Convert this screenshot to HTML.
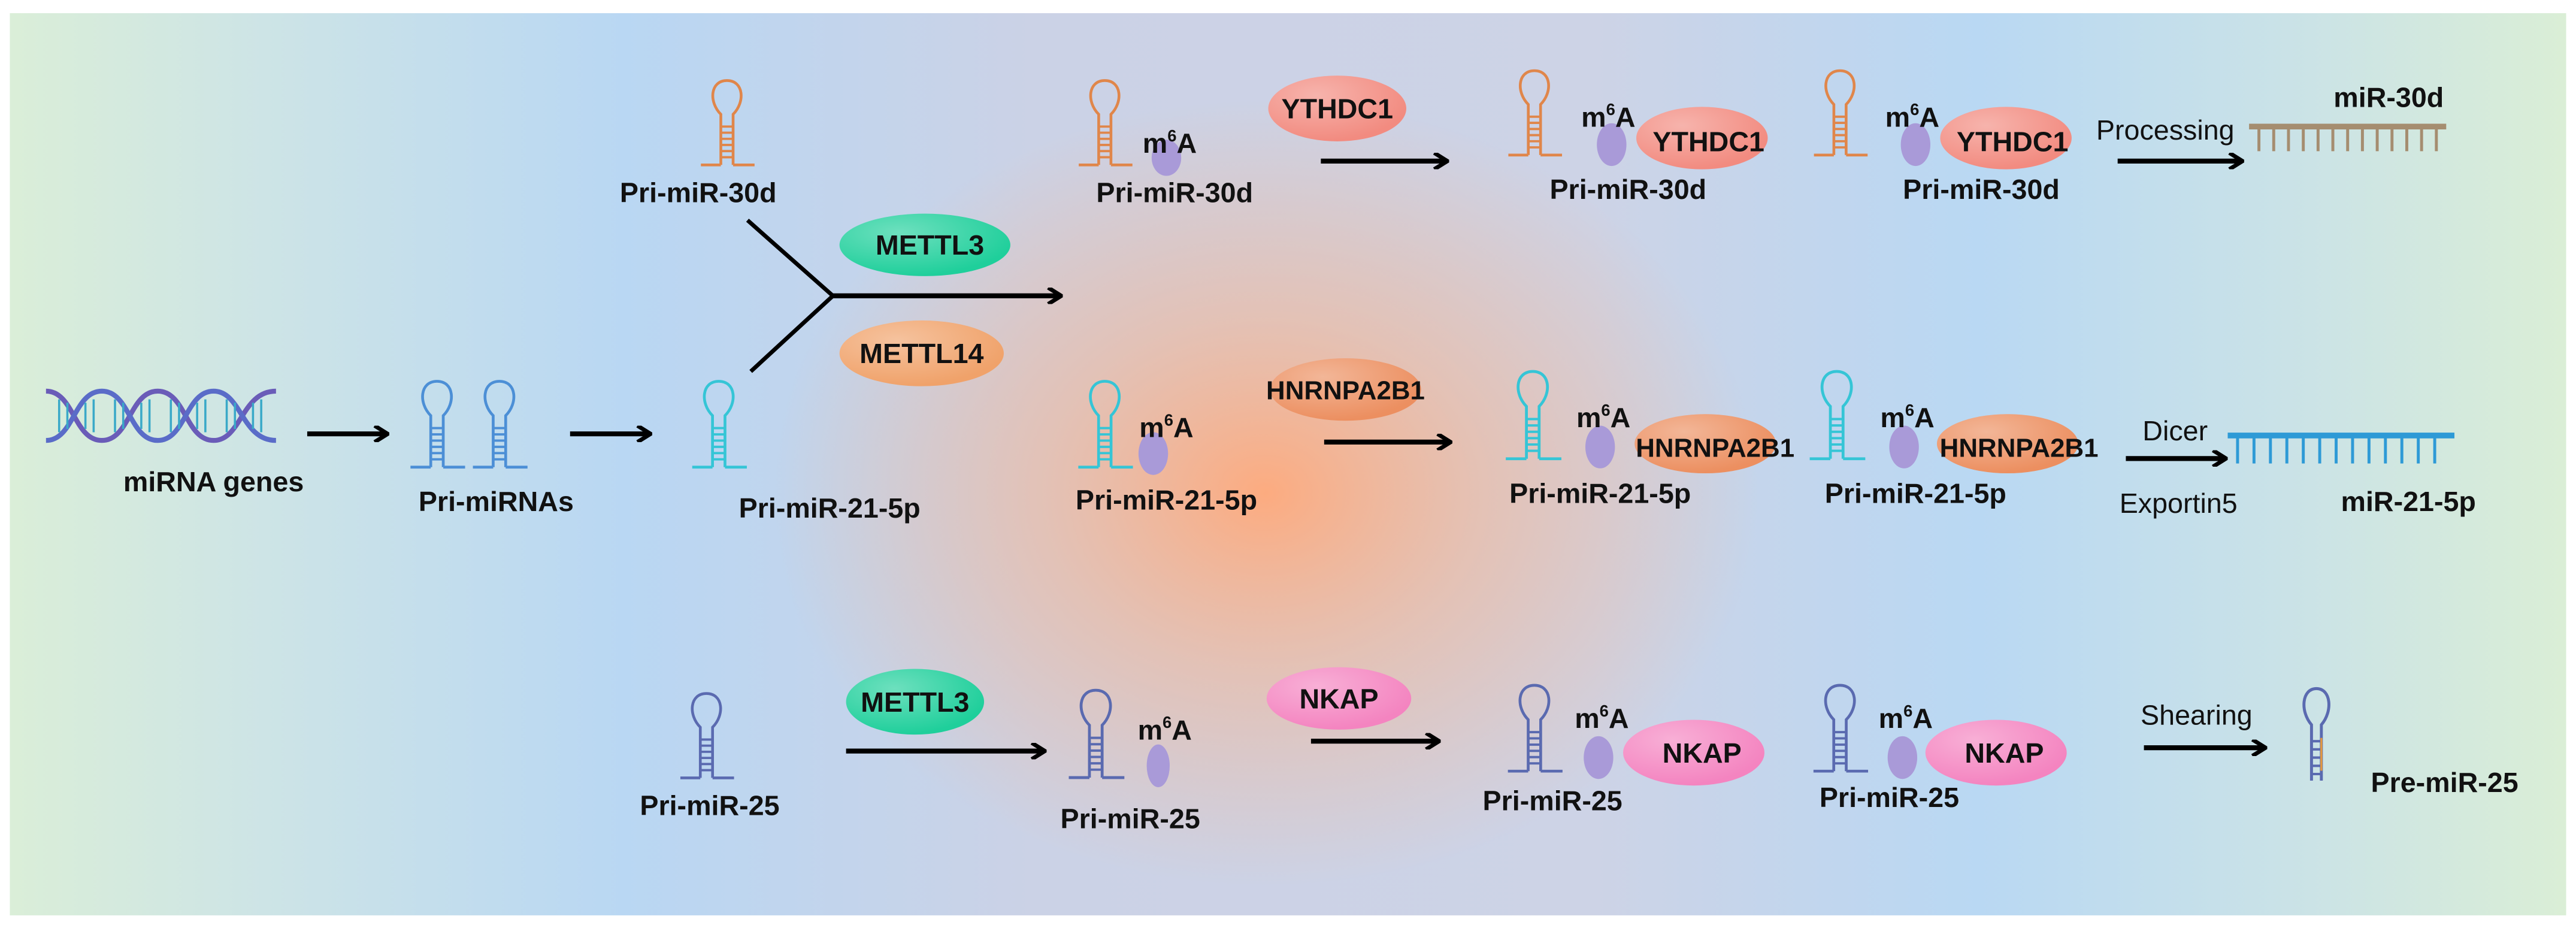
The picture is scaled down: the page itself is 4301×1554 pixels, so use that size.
<!DOCTYPE html>
<html><head><meta charset="utf-8"><style>
html,body{margin:0;padding:0;background:#fff}
svg{display:block}
text{font-family:"Liberation Sans Narrow","Liberation Sans",sans-serif;font-weight:bold;fill:#111}
.n{font-weight:normal}
</style></head><body>
<svg width="4301" height="1554" viewBox="0 0 1568 566.5" xmlns="http://www.w3.org/2000/svg">
<defs>
<linearGradient id="bg" x1="0" x2="1" y1="0" y2="0">
<stop offset="0" stop-color="#daeed8"/>
<stop offset="0.1" stop-color="#cde4e6"/>
<stop offset="0.24" stop-color="#b9d7f3"/>
<stop offset="0.4" stop-color="#cbd2e6"/>
<stop offset="0.62" stop-color="#cdd3e6"/>
<stop offset="0.77" stop-color="#b9d8f3"/>
<stop offset="0.9" stop-color="#cbe3e6"/>
<stop offset="1" stop-color="#daeed6"/>
</linearGradient>
<radialGradient id="org" cx="770" cy="300" r="300" gradientUnits="userSpaceOnUse" gradientTransform="translate(770 300) scale(1 0.8) translate(-770 -300)">
<stop offset="0" stop-color="#ffa97a" stop-opacity="0.95"/>
<stop offset="0.45" stop-color="#f6b48f" stop-opacity="0.55"/>
<stop offset="1" stop-color="#f6b48f" stop-opacity="0"/>
</radialGradient>
<radialGradient id="shine" cx="0.35" cy="0.3" r="0.7">
<stop offset="0" stop-color="#fff" stop-opacity="0.35"/>
<stop offset="1" stop-color="#fff" stop-opacity="0"/>
</radialGradient>
<symbol id="hp" viewBox="0 0 40 60" overflow="visible">
<path d="M16 55 V22 C8 14 9 0 20 0 C31 0 32 14 24 22 V55 M3 55 H16 M24 55 H38" fill="none" stroke="currentColor" stroke-width="1.8"/>
<path d="M16 30 H24 M16 34 H24 M16 38 H24 M16 42 H24 M16 46 H24 M16 50 H24" stroke="currentColor" stroke-width="1.5"/>
</symbol>
<marker id="ah" markerWidth="10" markerHeight="10" refX="8" refY="5" orient="auto" markerUnits="userSpaceOnUse">
<path d="M1 0 L9 5 L1 10" fill="none" stroke="#000" stroke-width="2.5"/>
</marker>
</defs>
<rect x="0" y="0" width="1568" height="566.5" fill="#fff"/>
<rect x="6" y="8" width="1556" height="549" fill="url(#bg)"/>
<rect x="6" y="8" width="1556" height="549" fill="url(#org)"/>

<!-- DNA -->
<g fill="none" stroke-width="3">
<path d="M28 238 C45 238 45 268 62 268 C79 268 79 238 96 238 C113 238 113 268 130 268 C147 268 147 238 168 238" stroke="#6a5cb8"/>
<path d="M28 268 C45 268 45 238 62 238 C79 238 79 268 96 268 C113 268 113 238 130 238 C147 238 147 268 168 268" stroke="#5a6cc8"/>
<path d="M36 243V263M41 245V261M52 245V261M57 243V263M70 243V263M75 245V261M86 245V261M91 243V263M104 243V263M109 245V261M120 245V261M125 243V263M138 243V263M143 245V261M154 245V261M159 243V263" stroke="#3aa9c8" stroke-width="1.3"/>
</g>
<text x="130" y="299" font-size="17" text-anchor="middle">miRNA genes</text>
<line x1="187" y1="264" x2="235" y2="264" stroke="#000" stroke-width="3" marker-end="url(#ah)"/>

<use href="#hp" x="240" y="232" width="52" height="57" style="color:#4c8fd6"/>
<use href="#hp" x="278" y="232" width="52" height="57" style="color:#4c8fd6"/>
<text x="302" y="311" font-size="17" text-anchor="middle">Pri-miRNAs</text>
<line x1="347" y1="264" x2="395" y2="264" stroke="#000" stroke-width="3" marker-end="url(#ah)"/>
<use href="#hp" x="410" y="232" width="55" height="57" style="color:#35c5d6"/>
<text x="505" y="315" font-size="17" text-anchor="middle">Pri-miR-21-5p</text>

<use href="#hp" x="415" y="49" width="55" height="56" style="color:#e0864a"/>
<text x="425" y="123" font-size="17" text-anchor="middle">Pri-miR-30d</text>

<!-- Y junction -->
<path d="M455 134 L507 180 L457 226" fill="none" stroke="#000" stroke-width="2.5"/>
<line x1="507" y1="180" x2="645" y2="180" stroke="#000" stroke-width="3" marker-end="url(#ah)"/>
<ellipse cx="563" cy="149" rx="52" ry="19" fill="#1fcf9b"/>
<ellipse cx="563" cy="149" rx="52" ry="19" fill="url(#shine)"/>
<text x="566" y="155" font-size="17" text-anchor="middle">METTL3</text>
<ellipse cx="561" cy="215" rx="50" ry="20" fill="#f0a26a"/>
<ellipse cx="561" cy="215" rx="50" ry="20" fill="url(#shine)"/>
<text x="561" y="221" font-size="17" text-anchor="middle">METTL14</text>

<!-- Row 1 -->
<use href="#hp" x="650" y="49" width="45" height="56" style="color:#e0864a"/>
<ellipse cx="710" cy="96" rx="9" ry="11" fill="#a99ad8"/>
<text x="712" y="93" font-size="17" text-anchor="middle">m<tspan font-size="10" dy="-7">6</tspan><tspan dy="7">A</tspan></text>
<text x="715" y="123" font-size="17" text-anchor="middle">Pri-miR-30d</text>
<ellipse cx="814" cy="66" rx="42" ry="20" fill="#f28b80"/>
<ellipse cx="814" cy="66" rx="42" ry="20" fill="url(#shine)"/>
<text x="814" y="72" font-size="17" text-anchor="middle">YTHDC1</text>
<line x1="804" y1="98" x2="880" y2="98" stroke="#000" stroke-width="3" marker-end="url(#ah)"/>

<use href="#hp" x="910" y="43" width="48" height="56" style="color:#e0864a"/>
<ellipse cx="981" cy="88" rx="9" ry="13" fill="#a99ad8"/>
<ellipse cx="1036" cy="84" rx="40" ry="19" fill="#f28b80"/>
<ellipse cx="1036" cy="84" rx="40" ry="19" fill="url(#shine)"/>
<text x="979" y="77" font-size="17" text-anchor="middle">m<tspan font-size="10" dy="-7">6</tspan><tspan dy="7">A</tspan></text>
<text x="1040" y="92" font-size="17" text-anchor="middle">YTHDC1</text>
<text x="991" y="121" font-size="17" text-anchor="middle">Pri-miR-30d</text>

<use href="#hp" x="1096" y="43" width="48" height="56" style="color:#e0864a"/>
<ellipse cx="1166" cy="88" rx="9" ry="13" fill="#a99ad8"/>
<ellipse cx="1221" cy="84" rx="40" ry="19" fill="#f28b80"/>
<ellipse cx="1221" cy="84" rx="40" ry="19" fill="url(#shine)"/>
<text x="1164" y="77" font-size="17" text-anchor="middle">m<tspan font-size="10" dy="-7">6</tspan><tspan dy="7">A</tspan></text>
<text x="1225" y="92" font-size="17" text-anchor="middle">YTHDC1</text>
<text x="1206" y="121" font-size="17" text-anchor="middle">Pri-miR-30d</text>

<text x="1318" y="85" font-size="17" text-anchor="middle" class="n">Processing</text>
<line x1="1289" y1="98" x2="1364" y2="98" stroke="#000" stroke-width="3" marker-end="url(#ah)"/>
<line x1="1369" y1="77" x2="1489" y2="77" stroke="#a58d70" stroke-width="3.5"/>
<path d="M1375 77v15M1384 77v15M1393 77v15M1402 77v15M1411 77v15M1420 77v15M1429 77v15M1438 77v15M1447 77v15M1456 77v15M1465 77v15M1474 77v15M1483 77v15" stroke="#a58d70" stroke-width="1.8"/>
<text x="1454" y="65" font-size="17" text-anchor="middle">miR-30d</text>

<!-- Row 2 -->
<use href="#hp" x="645" y="232" width="55" height="57" style="color:#35c5d6"/>
<ellipse cx="702" cy="276" rx="9" ry="13" fill="#a99ad8"/>
<text x="710" y="266" font-size="17" text-anchor="middle">m<tspan font-size="10" dy="-7">6</tspan><tspan dy="7">A</tspan></text>
<text x="710" y="310" font-size="17" text-anchor="middle">Pri-miR-21-5p</text>
<ellipse cx="819" cy="237" rx="46" ry="19" fill="#ec8f60"/>
<ellipse cx="819" cy="237" rx="46" ry="19" fill="url(#shine)"/>
<text x="819" y="243" font-size="16" text-anchor="middle">HNRNPA2B1</text>
<line x1="806" y1="269" x2="882" y2="269" stroke="#000" stroke-width="3" marker-end="url(#ah)"/>

<use href="#hp" x="909" y="226" width="48" height="58" style="color:#35c5d6"/>
<ellipse cx="974" cy="272" rx="9" ry="13" fill="#a99ad8"/>
<ellipse cx="1038" cy="270" rx="43" ry="18" fill="#ec8f60"/>
<ellipse cx="1038" cy="270" rx="43" ry="18" fill="url(#shine)"/>
<text x="976" y="260" font-size="17" text-anchor="middle">m<tspan font-size="10" dy="-7">6</tspan><tspan dy="7">A</tspan></text>
<text x="1044" y="278" font-size="16" text-anchor="middle">HNRNPA2B1</text>
<text x="974" y="306" font-size="17" text-anchor="middle">Pri-miR-21-5p</text>

<use href="#hp" x="1094" y="226" width="48" height="58" style="color:#35c5d6"/>
<ellipse cx="1159" cy="272" rx="9" ry="13" fill="#a99ad8"/>
<ellipse cx="1222" cy="270" rx="43" ry="18" fill="#ec8f60"/>
<ellipse cx="1222" cy="270" rx="43" ry="18" fill="url(#shine)"/>
<text x="1161" y="260" font-size="17" text-anchor="middle">m<tspan font-size="10" dy="-7">6</tspan><tspan dy="7">A</tspan></text>
<text x="1229" y="278" font-size="16" text-anchor="middle">HNRNPA2B1</text>
<text x="1166" y="306" font-size="17" text-anchor="middle">Pri-miR-21-5p</text>

<text x="1324" y="268" font-size="17" text-anchor="middle" class="n">Dicer</text>
<line x1="1294" y1="279" x2="1354" y2="279" stroke="#000" stroke-width="3" marker-end="url(#ah)"/>
<text x="1326" y="312" font-size="17" text-anchor="middle" class="n">Exportin5</text>
<line x1="1356" y1="265" x2="1494" y2="265" stroke="#2e9ad6" stroke-width="3.5"/>
<path d="M1362 265v17M1372 265v17M1382 265v17M1392 265v17M1402 265v17M1412 265v17M1422 265v17M1432 265v17M1442 265v17M1452 265v17M1462 265v17M1472 265v17M1482 265v17" stroke="#2e9ad6" stroke-width="1.8"/>
<text x="1466" y="311" font-size="17" text-anchor="middle">miR-21-5p</text>

<!-- Row 3 -->
<use href="#hp" x="405" y="422" width="50" height="56" style="color:#5a6ab0"/>
<text x="432" y="496" font-size="17" text-anchor="middle">Pri-miR-25</text>
<ellipse cx="557" cy="427" rx="42" ry="20" fill="#1fcf9b"/>
<ellipse cx="557" cy="427" rx="42" ry="20" fill="url(#shine)"/>
<text x="557" y="433" font-size="17" text-anchor="middle">METTL3</text>
<line x1="515" y1="457" x2="635" y2="457" stroke="#000" stroke-width="3" marker-end="url(#ah)"/>

<use href="#hp" x="644" y="420" width="46" height="58" style="color:#5a6ab0"/>
<ellipse cx="705" cy="466" rx="7" ry="13" fill="#a99ad8"/>
<text x="709" y="450" font-size="17" text-anchor="middle">m<tspan font-size="10" dy="-7">6</tspan><tspan dy="7">A</tspan></text>
<text x="688" y="504" font-size="17" text-anchor="middle">Pri-miR-25</text>
<ellipse cx="815" cy="425" rx="44" ry="19" fill="#f484c0"/>
<ellipse cx="815" cy="425" rx="44" ry="19" fill="url(#shine)"/>
<text x="815" y="431" font-size="17" text-anchor="middle">NKAP</text>
<line x1="798" y1="451" x2="875" y2="451" stroke="#000" stroke-width="3" marker-end="url(#ah)"/>

<use href="#hp" x="911" y="417" width="46" height="57" style="color:#5a6ab0"/>
<ellipse cx="973" cy="461" rx="9" ry="13" fill="#a99ad8"/>
<ellipse cx="1031" cy="458" rx="43" ry="20" fill="#f484c0"/>
<ellipse cx="1031" cy="458" rx="43" ry="20" fill="url(#shine)"/>
<text x="975" y="443" font-size="17" text-anchor="middle">m<tspan font-size="10" dy="-7">6</tspan><tspan dy="7">A</tspan></text>
<text x="1036" y="464" font-size="17" text-anchor="middle">NKAP</text>
<text x="945" y="493" font-size="17" text-anchor="middle">Pri-miR-25</text>

<use href="#hp" x="1097" y="417" width="46" height="57" style="color:#5a6ab0"/>
<ellipse cx="1158" cy="461" rx="9" ry="13" fill="#a99ad8"/>
<ellipse cx="1215" cy="458" rx="43" ry="20" fill="#f484c0"/>
<ellipse cx="1215" cy="458" rx="43" ry="20" fill="url(#shine)"/>
<text x="1160" y="443" font-size="17" text-anchor="middle">m<tspan font-size="10" dy="-7">6</tspan><tspan dy="7">A</tspan></text>
<text x="1220" y="464" font-size="17" text-anchor="middle">NKAP</text>
<text x="1150" y="491" font-size="17" text-anchor="middle">Pri-miR-25</text>

<text x="1337" y="441" font-size="17" text-anchor="middle" class="n">Shearing</text>
<line x1="1305" y1="455" x2="1378" y2="455" stroke="#000" stroke-width="3" marker-end="url(#ah)"/>
<g transform="translate(1397 419)">
<path d="M10 56 V22 C3 14 4 0 13 0 C22 0 23 14 16 22 V56" fill="none" stroke="#5a6ab0" stroke-width="1.8"/>
<path d="M10 32H16M10 37H16M10 42H16M10 47H16M10 52H16" stroke="#5a6ab0" stroke-width="1.5"/>
<line x1="16" y1="30" x2="16" y2="50" stroke="#e69a40" stroke-width="1.2"/>
</g>
<text x="1488" y="482" font-size="17" text-anchor="middle">Pre-miR-25</text>
</svg>
</body></html>
